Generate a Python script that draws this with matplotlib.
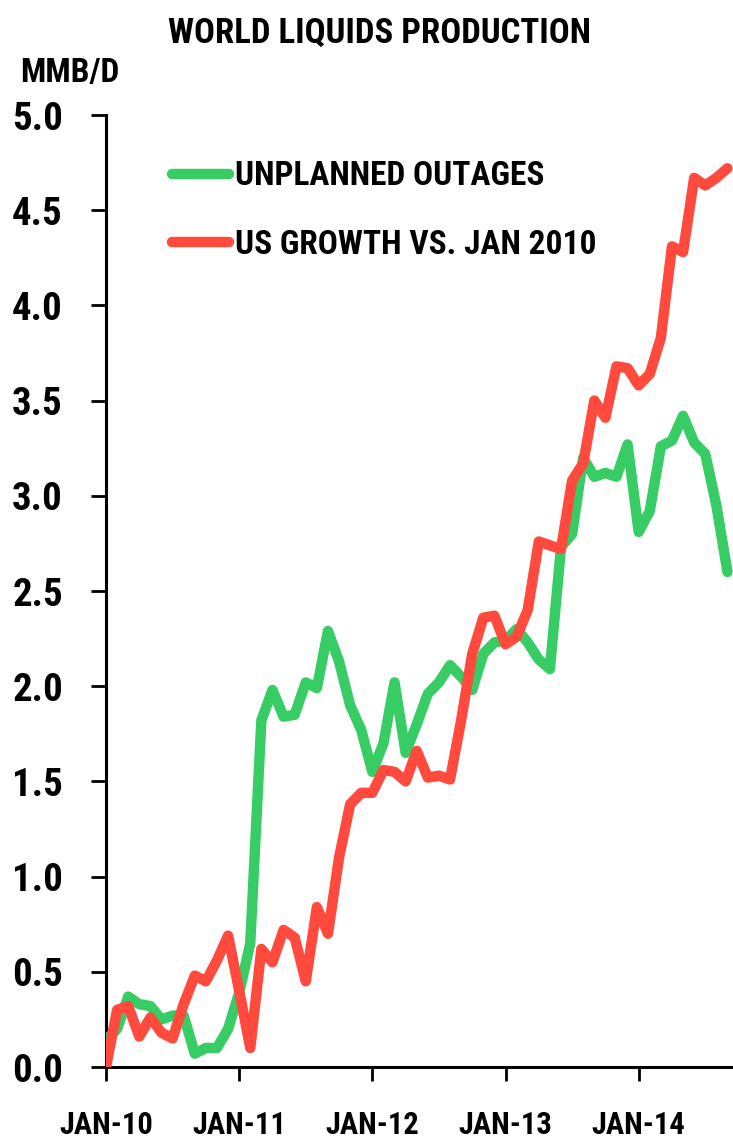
import matplotlib
matplotlib.use('Agg')
import matplotlib.pyplot as plt
from matplotlib import font_manager


# monthly values, Jan 2010 .. Sep 2014 (MMB/D)
months = list(range(57))
outages = [0.14, 0.20, 0.37, 0.33, 0.32, 0.25, 0.27, 0.27, 0.07, 0.10,
           0.10, 0.20, 0.39, 0.65, 1.82, 1.98, 1.84, 1.85, 2.02, 1.99,
           2.29, 2.13, 1.90, 1.77, 1.55, 1.70, 2.02, 1.65, 1.80, 1.96,
           2.02, 2.11, 2.05, 1.98, 2.17, 2.23, 2.24, 2.30, 2.23, 2.14,
           2.09, 2.73, 2.80, 3.20, 3.10, 3.12, 3.10, 3.27, 2.81, 2.92,
           3.26, 3.29, 3.42, 3.28, 3.22, 2.95, 2.60]
us_growth = [0.00, 0.30, 0.32, 0.16, 0.26, 0.18, 0.15, 0.33, 0.48, 0.45,
             0.56, 0.69, 0.40, 0.10, 0.62, 0.55, 0.72, 0.68, 0.45, 0.84,
             0.70, 1.10, 1.38, 1.44, 1.44, 1.56, 1.55, 1.50, 1.66, 1.52,
             1.53, 1.51, 1.82, 2.17, 2.36, 2.37, 2.22, 2.26, 2.40, 2.76,
             2.74, 2.72, 3.08, 3.17, 3.50, 3.41, 3.68, 3.67, 3.58, 3.64,
             3.83, 4.31, 4.28, 4.67, 4.63, 4.67, 4.72]
xtick_months = [0, 12, 24, 36, 48]
xtick_labels = ['JAN-10', 'JAN-11', 'JAN-12', 'JAN-13', 'JAN-14']
yticks = [0.0, 0.5, 1.0, 1.5, 2.0, 2.5, 3.0, 3.5, 4.0, 4.5, 5.0]

GREEN = '#37CC64'
RED = '#FF4A3D'

# prefer a narrow/condensed face if one is installed
installed = {f.name for f in font_manager.fontManager.ttflist}
family = 'DejaVu Sans'
for cand in ['Roboto Condensed', 'Open Sans Condensed', 'DejaVu Sans Condensed',
             'Liberation Sans Narrow', 'Liberation Sans']:
    if cand in installed:
        family = cand
        break
plt.rcParams['font.family'] = family
plt.rcParams['font.weight'] = 'bold'

fig = plt.figure(figsize=(7.33, 11.47), dpi=100)
ax = fig.add_axes([106 / 733, 80 / 1147, 627 / 733, 952 / 1147])

ax.plot(months, outages, color=GREEN, lw=7.5, solid_joinstyle='round',
        solid_capstyle='round', label='UNPLANNED OUTAGES', zorder=2)
ax.plot(months, us_growth, color=RED, lw=7.5, solid_joinstyle='round',
        solid_capstyle='round', label='US GROWTH VS. JAN 2010', zorder=3)

ax.set_xlim(0, 56.5)
ax.set_ylim(0, 5)
ax.set_yticks(yticks)
ax.set_yticklabels(['%.1f' % v for v in yticks])
ax.set_xticks(xtick_months)
ax.set_xticklabels(xtick_labels)

for side in ['top', 'right']:
    ax.spines[side].set_visible(False)
for side in ['left', 'bottom']:
    ax.spines[side].set_linewidth(2.2)
    ax.spines[side].set_color('black')
ax.spines['left'].set_zorder(1)

ax.tick_params(axis='y', length=11, width=2, pad=20, labelsize=28)
ax.tick_params(axis='x', length=10, width=2, pad=21, labelsize=22)
for lab in ax.get_xticklabels() + ax.get_yticklabels():
    lab.set_fontweight('bold')

leg = ax.legend(loc='upper left', bbox_to_anchor=(0.105, 0.9525), frameon=False,
                prop={'size': 24, 'weight': 'bold'}, handlelength=1.7,
                handletextpad=0.2, labelspacing=1.1, borderpad=0, borderaxespad=0)
for line in leg.get_lines():
    line.set_linewidth(7.5)
    line.set_solid_capstyle('round')

fig.text(0.518, 1 - 33 / 1147, 'WORLD LIQUIDS PRODUCTION', ha='center', va='center',
         fontsize=25, fontweight='bold')
fig.text(20 / 733, 1 - 73 / 1147, 'MMB/D', ha='left', va='center',
         fontsize=24, fontweight='bold')

fig.savefig('out.png', dpi=100, facecolor='white')
